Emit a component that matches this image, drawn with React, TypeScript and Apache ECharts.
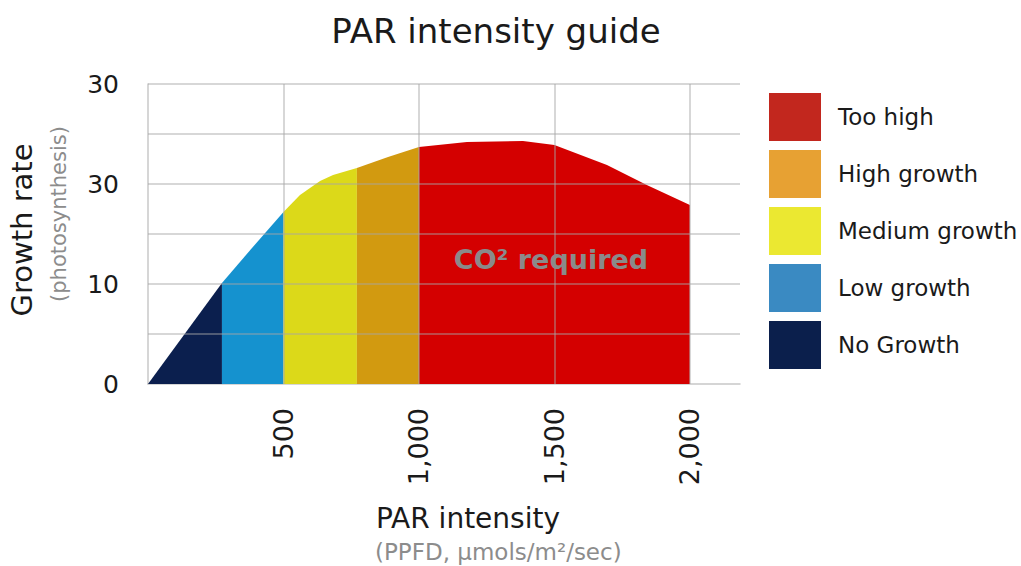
import React, { useEffect, useRef } from "react";
import * as echarts from "echarts";

// ---- data ----
const bandNames = ["No Growth", "Low growth", "Medium growth", "High growth", "Too high"];
const bandColors = ["#0b1f4e", "#1592cf", "#dcd919", "#d29a10", "#d40000"];
const legendOrder = ["Too high", "High growth", "Medium growth", "Low growth", "No Growth"];
const legendColors = ["#c2271e", "#e7a133", "#ebe831", "#3a8ac2", "#0b1f4c"];

const noGrowth: [number, number][] = [[0, 0], [273, 10.1]];
const lowGrowth: [number, number][] = [[273, 10.1], [387, 13.7], [500, 17.2]];
const mediumGrowth: [number, number][] = [[500, 17.2], [561, 18.9], [635, 20.3], [683, 20.9], [771, 21.6]];
const highGrowth: [number, number][] = [[771, 21.6], [886, 22.7], [1000, 23.7]];
const tooHigh: [number, number][] = [
  [1000, 23.7], [1177, 24.2], [1384, 24.3], [1500, 23.9], [1694, 21.9], [1841, 19.9], [2000, 17.9],
];
const bands = [noGrowth, lowGrowth, mediumGrowth, highGrowth, tooHigh];

const xTickValues = [500, 1000, 1500, 2000];
const xTickLabels = ["500", "1,000", "1,500", "2,000"];
const yTickValues = [0, 10, 20, 30];
const yTickLabels = ["0", "10", "30", "30"];
const yGridValues = [5, 10, 15, 20, 25, 30];

const FONT = "'DejaVu Sans', 'Open Sans', sans-serif";

export default function App() {
  const ref = useRef<HTMLDivElement>(null);

  useEffect(() => {
    document.body.style.margin = "0";
    const chart = echarts.init(ref.current!, null, { renderer: "svg" });

    const bandSeries = bands.map((d, i) => ({
      name: bandNames[i],
      type: "line",
      data: d,
      symbol: "none",
      showSymbol: false,
      lineStyle: { width: 0 },
      areaStyle: { color: bandColors[i], opacity: 1 },
      itemStyle: { color: bandColors[i] },
      silent: true,
      z: 2,
    }));

    const gridColor = "rgba(165,165,165,0.6)";
    const gridSeries = {
      name: "grid",
      type: "line",
      data: [[0, 0]],
      symbol: "none",
      showSymbol: false,
      lineStyle: { width: 0, opacity: 0 },
      silent: true,
      z: 5,
      markLine: {
        silent: true,
        symbol: "none",
        label: { show: false },
        lineStyle: { color: gridColor, width: 1.5, type: "solid" },
        data: [
          ...xTickValues.map((v) => ({ xAxis: v })),
          ...yGridValues.map((v) => ({ yAxis: v })),
        ],
      },
    };

    chart.setOption({
      animation: false,
      title: {
        text: "PAR intensity guide",
        left: 491,
        textAlign: "center",
        top: 9,
        textStyle: { fontFamily: FONT, fontSize: 34, fontWeight: "normal", color: "#1a1a1a" },
      },
      grid: { left: 148, top: 84, right: 281, bottom: 182 },
      legend: {
        orient: "vertical",
        left: 769,
        top: 93,
        padding: 0,
        itemWidth: 52,
        itemHeight: 48,
        itemGap: 9,
        selectedMode: false,
        icon: "rect",
        textStyle: { fontFamily: FONT, fontSize: 23, color: "#1a1a1a", padding: [0, 0, 0, 12] },
        data: legendOrder.map((n, i) => ({ name: n, itemStyle: { color: legendColors[i] } })),
      },
      xAxis: {
        type: "value",
        min: 0,
        max: 2185,
        interval: 500,
        axisLine: { show: true, lineStyle: { color: "#c8c8c8", width: 1.5 } },
        axisTick: { show: false },
        splitLine: { show: false },
        axisLabel: {
          rotate: 90,
          margin: 24,
          fontFamily: FONT,
          fontSize: 27,
          color: "#1a1a1a",
          showMaxLabel: false,
          formatter: (v: number) => {
            const idx = xTickValues.indexOf(v);
            return idx >= 0 ? xTickLabels[idx] : "";
          },
        },
      },
      yAxis: {
        type: "value",
        min: 0,
        max: 30,
        interval: 5,
        axisLine: { show: true, lineStyle: { color: "#c8c8c8", width: 1.5 } },
        axisTick: { show: false },
        splitLine: { show: false },
        axisLabel: {
          margin: 29,
          fontFamily: FONT,
          fontSize: 25,
          color: "#1a1a1a",
          formatter: (v: number) => {
            const idx = yTickValues.indexOf(v);
            return idx >= 0 ? yTickLabels[idx] : "";
          },
        },
      },
      series: [...bandSeries, gridSeries],
      graphic: [
        {
          type: "text",
          x: 22,
          y: 230,
          rotation: Math.PI / 2,
          style: {
            text: "Growth rate",
            font: `29px ${FONT}`,
            fill: "#1a1a1a",
            align: "center",
            verticalAlign: "middle",
          },
        },
        {
          type: "text",
          x: 59,
          y: 214,
          rotation: Math.PI / 2,
          style: {
            text: "(photosynthesis)",
            font: `21px ${FONT}`,
            fill: "#8c8c8c",
            align: "center",
            verticalAlign: "middle",
          },
        },
        {
          type: "text",
          x: 376,
          y: 518,
          style: {
            text: "PAR intensity",
            font: `28px ${FONT}`,
            fill: "#1a1a1a",
            align: "left",
            verticalAlign: "middle",
          },
        },
        {
          type: "text",
          x: 375,
          y: 552,
          style: {
            text: "(PPFD, \u00b5mols/m\u00b2/sec)",
            font: `23px ${FONT}`,
            fill: "#8c8c8c",
            align: "left",
            verticalAlign: "middle",
          },
        },
        {
          type: "text",
          x: 551,
          y: 259,
          z: 100,
          style: {
            text: "CO\u00b2 required",
            font: `bold 27px ${FONT}`,
            fill: "#8a8a8a",
            align: "center",
            verticalAlign: "middle",
          },
        },
      ],
    });

    return () => chart.dispose();
  }, []);

  return <div ref={ref} style={{ width: 1021, height: 566 }} />;
}
